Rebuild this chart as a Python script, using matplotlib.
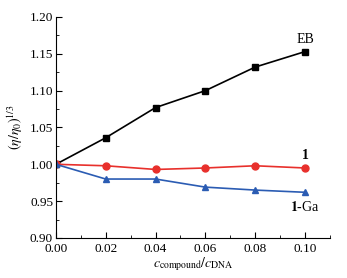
import numpy as np
import matplotlib.pyplot as plt
from matplotlib.ticker import MultipleLocator

plt.rcParams['font.family'] = ['Liberation Serif', 'DejaVu Serif']
plt.rcParams['mathtext.fontset'] = 'stix'

ratio = [0.00, 0.02, 0.04, 0.06, 0.08, 0.10]
eb = [1.000, 1.036, 1.077, 1.100, 1.132, 1.153]
cmp1 = [1.000, 0.998, 0.993, 0.995, 0.998, 0.995]
cmp1_ga = [1.000, 0.980, 0.980, 0.969, 0.965, 0.962]

fig = plt.figure(figsize=(3.47, 2.78), dpi=100)
ax = fig.add_axes([0.161, 0.144, 0.79, 0.795])

ax.plot(ratio, eb, '-s', color='black', ms=4.5, lw=1.2)
ax.plot(ratio, cmp1, '-o', color='#e8302c', ms=5, lw=1.2)
ax.plot(ratio, cmp1_ga, '-^', color='#2b5cb3', ms=5, lw=1.2)

ax.text(0.10, 1.160, 'EB', ha='center', va='bottom', fontsize=10)
ax.text(0.10, 1.003, '1', ha='center', va='bottom', fontsize=10, fontweight='bold')
ax.text(0.10, 0.952, r'$\mathbf{1}$-Ga', ha='center', va='top', fontsize=10)

ax.set_xlim(0, 0.11)
ax.set_ylim(0.90, 1.20)
ax.xaxis.set_major_locator(MultipleLocator(0.02))
ax.xaxis.set_minor_locator(MultipleLocator(0.01))
ax.yaxis.set_major_locator(MultipleLocator(0.05))
ax.yaxis.set_minor_locator(MultipleLocator(0.025))
ax.set_xticks([0, 0.02, 0.04, 0.06, 0.08, 0.10])
ax.set_xticklabels(['0.00', '0.02', '0.04', '0.06', '0.08', '0.10'])
ax.set_yticklabels(['%.2f' % v for v in ax.get_yticks()])
ax.tick_params(direction='in', which='major', length=4, labelsize=9.5)
ax.tick_params(axis='x', pad=3.5)
ax.tick_params(axis='y', pad=2)
ax.tick_params(direction='in', which='minor', length=2)
ax.spines['top'].set_visible(False)
ax.spines['right'].set_visible(False)

ax.set_xlabel(r'$c_{\rm compound}/c_{\rm DNA}$', fontsize=10, labelpad=0)
ax.set_ylabel(r'$(\eta/\eta_0)^{1/3}$', fontsize=10, labelpad=3)

fig.savefig('out.png', dpi=100)
